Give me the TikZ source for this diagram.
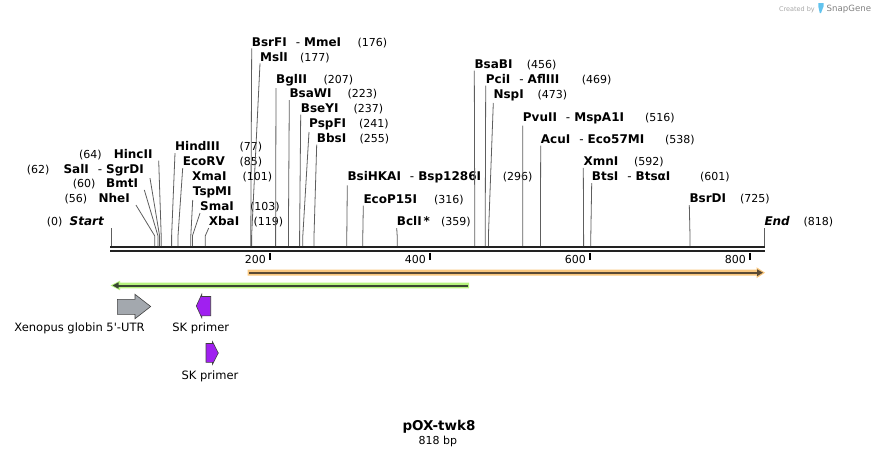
\documentclass[tikz,border=0pt]{standalone}
\usepackage{fontspec}
\setmainfont[Ligatures=TeXOff]{DejaVu Sans}
\definecolor{SGbone}{HTML}{222222}
\definecolor{SGsite}{HTML}{5E5E5E}
\definecolor{SGgray}{HTML}{A3A8AE}
\definecolor{SGpurple}{HTML}{A020F0}
\definecolor{SGorange}{HTML}{F9C77E}
\definecolor{SGorangeln}{HTML}{5A4A34}
\definecolor{SGgreen}{HTML}{B7F47F}
\definecolor{SGgreenln}{HTML}{3A4832}
\definecolor{SGlogo}{HTML}{62C3EE}
\usepackage{tikz}
\usetikzlibrary{arrows.meta,calc,positioning}
\newcommand{\enzsep}{\hspace{9pt}{\mdseries -}\hspace{4pt}}

\begin{document}
\begin{tikzpicture}[x=1pt,y=-1pt,>=Latex,
  enz/.style={font=\fontsize{12}{13}\selectfont\bfseries,inner xsep=0pt,inner ysep=2pt},
  num/.style={font=\fontsize{11}{13}\selectfont,inner sep=0pt,anchor=base west},
  siteline/.style={SGsite,line width=0.8pt},
  bone/.style={SGbone,line width=2.7pt},
  feat/.style={draw=black!75,line width=0.6pt,line join=miter},
  lbl/.style={font=\fontsize{11.5}{13}\selectfont,inner sep=0pt,anchor=base}]
  \useasboundingbox (0,0) rectangle (876,456);

  % backbone and ruler
  \coordinate (b0) at (110,247);
  \coordinate (b1) at (765,247);
  \draw[bone] (b0) -- (b1);
  \draw[bone] ($(b0)+(0,3.9)$) -- ($(b1)+(0,3.9)$);
  \foreach \t in {200,400,600,800} {
    \draw[black,line width=2pt] ({110+0.8*\t},252.5) -- ++(0,7);
    \node[num,anchor=base east] (r\t) at ({110+0.8*\t-4},263) {\t};
  }

  % start and end
  \node[enz,anchor=base east] (start) at (104,225.7) {\itshape Start};
  \node[num] (pstart) at (46.7,225.7) {(0)};
  \coordinate (st) at (111,228);
  \draw[siteline] (st) -- (111,246);
  \node[enz,anchor=base west] (end) at (764.3,225.7) {\itshape End};
  \node[num] (pend) at (803.3,225.7) {(818)};
  \draw[siteline] (end.south west) -- (764.3,246);

  % sites, labels to the left of the line
  \foreach \id/\pos/\lx/\ly/\nx/\txt in {
      hinc/64/152.7/158.3/79/HincII,
      sal/62/144/173.3/26.7/{SalI\enzsep SgrDI},
      bmt/60/138.3/187.7/72.7/BmtI,
      nhe/56/130/202.7/64.3/NheI} {
    \node[enz,anchor=base east] (n\id) at (\lx,\ly) {\txt};
    \node[num] (p\id) at (\nx,\ly) {(\pos)};
    \draw[siteline] ([xshift=6pt]n\id.south east) -- ({110+0.8*\pos},236) -- ({110+0.8*\pos},246);
  }

  % sites, labels to the right of the line
  \foreach \id/\pos/\lx/\ly/\nx/\txt in {
      hind/77/175/150.7/239.3/HindIII,
      ecorv/85/182.7/165.7/239.3/EcoRV,
      sma/103/200/210.7/250/SmaI,
      xba/119/208.7/225.7/253.3/XbaI,
      bsrf/176/251.7/46/357.3/{BsrFI\enzsep MmeI},
      msl/177/260/61/300/MslI,
      bgl/207/276/83.3/323.3/BglII,
      bsaw/223/289.3/97.7/347.3/BsaWI,
      bsey/237/300.7/112.3/353.3/BseYI,
      pspf/241/309/127.3/359/PspFI,
      bbs/255/316.7/142.3/359.3/BbsI,
      bsih/296/347.3/180.7/502.7/{BsiHKAI\enzsep Bsp1286I},
      ecop/316/363.3/203.3/434/EcoP15I,
      bcl/359/396.7/225.7/441/{BclI\,*},
      bsab/456/474.3/68.3/526.7/BsaBI,
      pci/469/485.7/83.3/581.7/{PciI\enzsep AflIII},
      nsp/473/493.3/98.3/537.3/NspI,
      pvu/516/522.7/121/645/{PvuII\enzsep MspA1I},
      acu/538/540.7/143.3/665/{AcuI\enzsep Eco57MI},
      xmn/592/583.3/165.7/634/XmnI,
      bts/601/591.7/180.7/700/{BtsI\enzsep BtsαI},
      bsrd/725/689.3/202.7/740/BsrDI} {
    \node[enz,anchor=base west] (n\id) at (\lx,\ly) {\txt};
    \node[num] (p\id) at (\nx,\ly) {(\pos)};
    \draw[siteline] (n\id.south west) -- ({110+0.8*\pos},236) -- ({110+0.8*\pos},246);
  }
  \node[enz,anchor=base west] (nxma) at (192,180.7) {XmaI};
  \node[num] (pxma) at (242.3,180.7) {(101)};
  \node[enz,anchor=base west] (ntsp) at (192.7,195.3) {TspMI};
  \draw[siteline] (ntsp.south west) -- (190.8,236) -- (190.8,246);

  % features
  \fill[SGorange] (247.5,269.7) -- (756.5,269.7) -- (756.5,267.2) -- (765,272.7)
    -- (756.5,278.2) -- (756.5,275.7) -- (247.5,275.7) -- cycle;
  \draw[SGorangeln,line width=1.8pt,-{Triangle[length=6pt,width=6.5pt]}] (249,272.7) -- (763,272.7);
  \fill[SGgreen] (469,282.7) -- (120,282.7) -- (120,280.7) -- (110.5,285.5)
    -- (120,290.3) -- (120,288.3) -- (469,288.3) -- cycle;
  \draw[SGgreenln,line width=2pt,-{Triangle[length=6pt,width=6pt]}] (467.5,285.5) -- (112.5,285.5);

  \draw[feat,fill=SGgray] (117.3,299.3) -- (135,299.3) -- (135,294.3) -- (150.7,306.5)
    -- (135,318.7) -- (135,314.3) -- (117.3,314.3) -- cycle;
  \draw[feat,fill=SGpurple] (196.3,306) -- (201.7,294.3) -- (201.7,296.5) -- (210.7,296.5)
    -- (210.7,315.8) -- (201.7,315.8) -- (201.7,317.7) -- cycle;
  \draw[feat,fill=SGpurple] (206,343.5) -- (212.5,343.5) -- (212.5,341.7) -- (218.3,353)
    -- (212.5,364.3) -- (212.5,362.3) -- (206,362.3) -- cycle;
  \node[lbl] (utr) at (79.5,331) {Xenopus globin 5'-UTR};
  \node[lbl] (sk1) at (200.8,331) {SK primer};
  \node[lbl] (sk2) at (210,379) {SK primer};

  % title
  \node[font=\fontsize{13.5}{15}\selectfont\bfseries,inner sep=0pt,anchor=base] (title) at (439,430.7) {pOX-twk8};
  \node[font=\fontsize{11}{13}\selectfont,inner sep=0pt,anchor=base] (size) at (437.8,444.3) {818 bp};

  % credit
  \node[font=\fontsize{6.5}{8}\selectfont,text=black!35,inner sep=0pt,anchor=base east] (cr) at (815,11) {Created by};
  \fill[SGlogo] (818.3,3) -- (823.5,3) -- (823.5,6.5) -- (821,13) -- (819.8,13) -- (818.3,6.5) -- cycle;
  \node[font=\fontsize{8.6}{10}\selectfont,text=black!50,inner sep=0pt,anchor=base west] (sg) at (826.5,11.3) {SnapGene};
\end{tikzpicture}
\end{document}
